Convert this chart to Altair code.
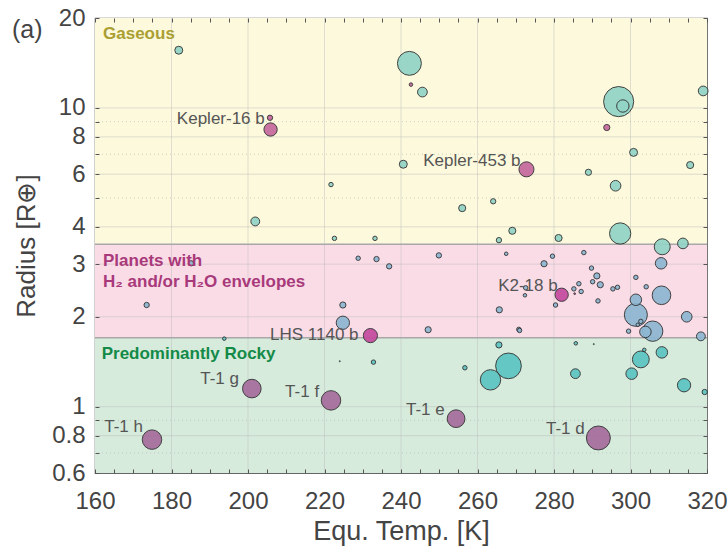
import altair as alt
import pandas as pd
import numpy as np

# ---------------- data ----------------
# gaseous-zone planets (teal)
gas_temp = [181.9, 242.2, 245.6, 240.6, 221.7, 296.9, 298.0, 319.0, 300.8, 289.0, 296.1, 315.6,
            264.1, 201.9, 256.0, 222.6, 233.2, 269.1, 265.6, 281.2, 297.3, 308.3, 313.7]
gas_radius = [15.6, 14.1, 11.3, 6.48, 5.54, 10.5, 10.15, 11.4, 7.1, 6.09, 5.49, 6.44,
              4.87, 4.17, 4.62, 3.66, 3.66, 3.88, 3.61, 3.67, 3.80, 3.43, 3.52]
gas_bubble = [10, 28, 12, 10, 6, 35, 15, 12, 10, 8, 13, 9,
              7, 11, 9, 6, 6, 9, 7, 9, 25, 19, 13]

# envelope-zone planets (blue)
env_temp = [185.1, 173.5, 228.8, 233.6, 236.9, 249.9, 267.5, 277.4, 279.6, 224.8, 224.8, 247.1,
            265.7, 272.6, 272.4, 280.4, 270.8, 271.0, 308.0, 287.8, 289.8, 291.2, 290.1, 292.1,
            286.5, 285.2, 287.1, 291.5, 295.4, 296.6, 301.4, 304.1, 308.1, 301.4, 301.4, 305.8,
            303.9, 302.7, 301.9, 299.5, 314.7, 318.4]
env_radius = [3.02, 2.19, 3.14, 3.12, 2.95, 3.21, 3.25, 3.01, 3.19, 2.19, 1.91, 1.81,
              2.11, 2.50, 2.36, 2.19, 1.815, 1.80, 3.02, 3.28, 2.91, 2.74, 2.62, 2.56,
              2.58, 2.48, 2.43, 2.26, 2.48, 2.51, 2.71, 2.52, 2.36, 2.28, 2.03, 1.79,
              1.78, 1.93, 1.88, 1.79, 2.00, 1.72]
env_bubble = [7, 7, 6, 7, 7, 7, 5, 8, 6, 8, 16, 8,
              8, 6, 5, 6, 6, 6, 14, 6, 6, 8, 6, 8,
              6, 6, 6, 6, 6, 6, 6, 6, 22, 14, 27, 24,
              14, 6, 5, 6, 13, 11]

# rocky-zone planets (teal)
rock_temp = [193.8, 265.6, 232.8, 256.7, 268.1, 263.4, 285.7, 308.2, 302.7, 303.6, 300.3, 285.6,
             314.0, 319.4, 224.0, 290.4]
rock_radius = [1.69, 1.61, 1.41, 1.35, 1.37, 1.23, 1.63, 1.52, 1.44, 1.55, 1.29, 1.29,
               1.18, 1.12, 1.42, 1.62]
rock_bubble = [5, 8, 6, 6, 30, 24, 5, 14, 20, 5, 14, 12,
               16, 7, 2, 2]

# highlighted planets (magenta) in the gaseous zone
hg_temp = [242.6, 205.75, 205.9, 293.8, 272.8]
hg_radius = [11.97, 9.27, 8.47, 8.6, 6.23]
hg_bubble = [5, 7, 16, 8, 18]

# highlighted planets (magenta) in the envelope zone
he_temp = [232.0, 282.0, 285.4]
he_radius = [1.73, 2.37, 2.39]
he_bubble = [17, 16, 3]

# TRAPPIST-1 planets
t1_temp = [174.9, 201.0, 221.7, 254.4, 291.6]
t1_radius = [0.776, 1.15, 1.05, 0.912, 0.786]
t1_bubble = [23, 22, 23, 21, 28]

# planet name labels
label_text = ["Kepler-16 b", "Kepler-453 b", "K2-18 b", "LHS 1140 b",
              "T-1 h", "T-1 g", "T-1 f", "T-1 e", "T-1 d"]
label_temp = [181.4, 245.8, 265.4, 205.75, 162.4, 187.5, 209.7, 241.3, 277.9]
label_radius = [9.18, 6.66, 2.535, 1.74, 0.856, 1.238, 1.123, 0.975, 0.842]

# zones
band_name = ["Rocky", "Envelope", "Gaseous"]
band_lo = [0.6, 1.7, 3.5]
band_hi = [1.7, 3.5, 20]

# zone captions
zone_text = ["Gaseous", "Planets with", "H\u2082 and/or H\u2082O envelopes", "Predominantly Rocky"]
zone_key = ["Gaseous", "Envelope", "Envelope", "Rocky"]
zone_temp = [162.1, 162.1, 162.1, 161.75]
zone_radius = [17.7, 3.07, 2.62, 1.50]

# axis ticks / grid
x_ticks = list(range(160, 325, 5))
y_ticks = [0.6, 0.7, 0.8, 0.9, 1, 2, 3, 4, 5, 6, 7, 8, 9, 10, 20]
y_labels = [0.6, 0.8, 1, 2, 3, 4, 6, 8, 10, 20]
grid_x = [180, 200, 220, 240, 260, 280, 300]
grid_y_major = [0.8, 1, 2, 3, 4, 6, 8, 10]
grid_y_minor = [0.7, 0.9, 5, 7, 9]

# ---------------- tables ----------------
frames = []
for g, t, r, b in [("gas", gas_temp, gas_radius, gas_bubble),
                   ("env", env_temp, env_radius, env_bubble),
                   ("rock", rock_temp, rock_radius, rock_bubble),
                   ("hg", hg_temp, hg_radius, hg_bubble),
                   ("he", he_temp, he_radius, he_bubble),
                   ("t1", t1_temp, t1_radius, t1_bubble)]:
    frames.append(pd.DataFrame({"group": g, "temp": t, "radius": r, "bubble": b}))
pts = pd.concat(frames, ignore_index=True)
pts["area"] = np.pi / 4 * (pts["bubble"] - 1).clip(lower=1.2) ** 2

bands = pd.DataFrame({"band": band_name, "lo": band_lo, "hi": band_hi})
labels = pd.DataFrame({"text": label_text, "temp": label_temp, "radius": label_radius})
zones = pd.DataFrame({"text": zone_text, "key": zone_key, "temp": zone_temp, "radius": zone_radius})

FONT = "Liberation Sans"
xs = alt.Scale(domain=[160, 320], nice=False, zero=False)
ys = alt.Scale(type="log", domain=[0.6, 20], nice=False)

ylab_expr = "indexof(" + str(y_labels) + ", datum.value) >= 0 ? format(datum.value, '~g') : ''"

# bands (carry the labelled bottom/left axes)
band_layer = alt.Chart(bands).mark_rect().encode(
    x=alt.X(datum=160, scale=xs, axis=alt.Axis(
        orient="bottom", values=x_ticks, title="Equ. Temp. [K]",
        labelExpr="datum.value % 20 === 0 ? datum.label : ''",
        offset=-4, tickSize=4, domain=False, grid=False, labelPadding=16,
        labelFlush=False, labelOverlap=False,
        labelFontSize=24, titleFontSize=27, titlePadding=5, titleFontWeight="normal",
        tickColor="#555", labelColor="#444", titleColor="#444", zindex=1,
        labelFont=FONT, titleFont=FONT)),
    x2=alt.X2(datum=320),
    y=alt.Y("lo:Q", scale=ys, axis=alt.Axis(
        orient="left", values=y_ticks, title="Radius [R\u2295]", labelExpr=ylab_expr,
        offset=-4, tickSize=4, domain=False, grid=False, labelPadding=10,
        labelOverlap=False,
        labelFontSize=24, titleFontSize=26, titlePadding=12, titleFontWeight="normal",
        tickColor="#555", labelColor="#444", titleColor="#444", zindex=1,
        labelFont=FONT, titleFont=FONT)),
    y2="hi:Q",
    fill=alt.Fill("band:N", scale=alt.Scale(domain=band_name,
                                            range=["#d6ebdc", "#fadce7", "#fdf9dc"]), legend=None),
)

# grid
vgrid = alt.Chart(pd.DataFrame({"v": grid_x})).mark_rule(color="#bbbbbb", opacity=0.45, strokeWidth=1).encode(
    x=alt.X("v:Q", scale=xs, axis=alt.Axis(
        orient="top", values=x_ticks, labels=False, title=None, offset=-4, tickSize=4,
        domain=False, grid=False, tickColor="#555", zindex=1)),
)
hgrid = alt.Chart(pd.DataFrame({"v": grid_y_major})).mark_rule(color="#bbbbbb", opacity=0.45, strokeWidth=1).encode(
    y=alt.Y("v:Q", scale=ys, axis=alt.Axis(
        orient="right", values=y_ticks, labels=False, title=None, offset=-4, tickSize=4,
        domain=False, grid=False, tickColor="#555", zindex=1)),
)
hgrid_minor = alt.Chart(pd.DataFrame({"v": grid_y_minor})).mark_rule(
    color="#aaaaaa", opacity=0.5, strokeWidth=1, strokeDash=[1, 3]).encode(
    y=alt.Y("v:Q", scale=ys, axis=None),
)
edges = alt.Chart(bands.iloc[1:]).mark_rule(color="#a8a8a8", strokeWidth=1.5).encode(
    y=alt.Y("lo:Q", scale=ys, axis=None),
)

# planets
points = alt.Chart(pts).mark_circle(stroke="#333333", strokeWidth=1, opacity=0.92).encode(
    x=alt.X("temp:Q", scale=xs, axis=None),
    y=alt.Y("radius:Q", scale=ys, axis=None),
    size=alt.Size("area:Q", scale=None, legend=None),
    fill=alt.Fill("group:N", scale=alt.Scale(
        domain=["gas", "env", "rock", "hg", "he", "t1"],
        range=["#92d4c6", "#8db7d2", "#5cc5c3", "#c4689d", "#c44a9e", "#a66b9c"]), legend=None),
    order=alt.Order("area:Q", sort="descending"),
)

names = alt.Chart(labels).mark_text(align="left", baseline="middle", font=FONT,
                                    fontSize=17, color="#555555").encode(
    x=alt.X("temp:Q", scale=xs, axis=None),
    y=alt.Y("radius:Q", scale=ys, axis=None),
    text="text:N",
)

zone_colors = {"Gaseous": "#ab9f32", "Envelope": "#a8397a", "Rocky": "#138a48"}
zone_layers = []
for k, c in zone_colors.items():
    zone_layers.append(
        alt.Chart(zones[zones["key"] == k]).mark_text(
            align="left", baseline="middle", font=FONT, fontSize=17, fontWeight="bold", color=c
        ).encode(
            x=alt.X("temp:Q", scale=xs, axis=None),
            y=alt.Y("radius:Q", scale=ys, axis=None),
            text="text:N",
        )
    )

# panel tag "(a)"
tag = alt.Chart(pd.DataFrame({"t": ["(a)"]})).mark_text(
    align="left", baseline="middle", font=FONT, fontSize=25, color="#444444"
).encode(x=alt.value(-83), y=alt.value(12), text="t:N")

chart = alt.layer(
    band_layer, vgrid, hgrid, hgrid_minor, edges, points, names, *zone_layers, tag
).resolve_scale(
    fill="independent"
).resolve_axis(
    x="independent", y="independent"
).properties(
    width=612, height=455,
    autosize=alt.AutoSizeParams(type="none"),
    padding={"left": 95, "top": 18, "right": 21, "bottom": 73},
).configure_view(stroke="#666666", strokeWidth=1.2)

chart.save("out.html", embed_options={"renderer": "svg", "actions": False})
